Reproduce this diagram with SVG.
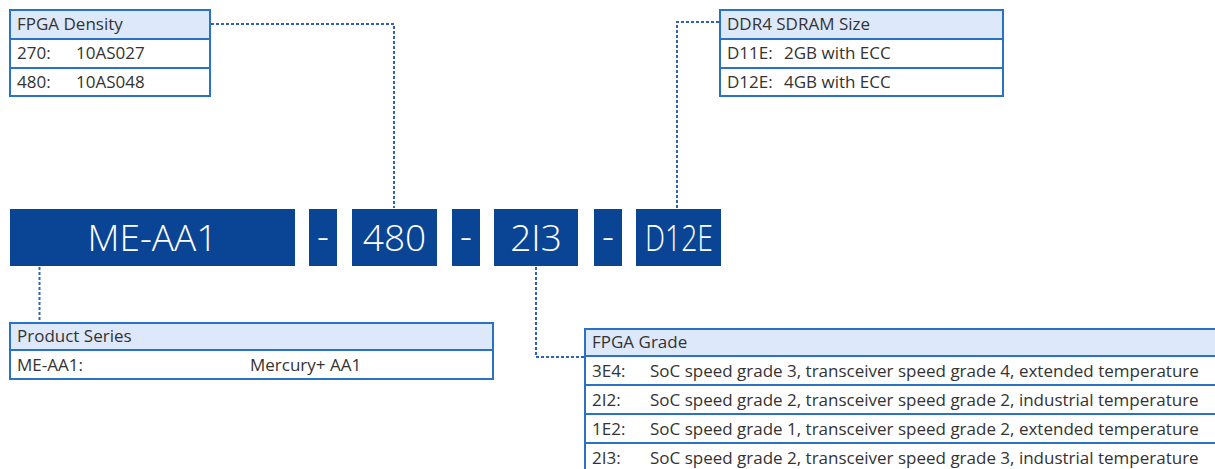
<svg xmlns="http://www.w3.org/2000/svg" width="1215" height="469" viewBox="0 0 1215 469">
<style>
.bk{fill:#0a4595}
.bt{fill:#fff;font-family:"Open Sans","Noto Sans",sans-serif;font-size:37px;font-weight:300;text-anchor:middle}
.hd{fill:#dde8fb;stroke:#2a72c2;stroke-width:2}
.rw{fill:#fff;stroke:#2a72c2;stroke-width:2}
.tx{fill:#333;font-family:"Open Sans","Noto Sans",sans-serif;font-size:17px}
.cn{fill:none;stroke:#2d62b8;stroke-width:2;stroke-dasharray:3 2}
</style>
<rect width="1215" height="469" fill="#fff"/>
<g id="connectors">
<polyline class="cn" points="211,24 394,24 394,208"/>
<polyline class="cn" points="719,22 677,22 677,208"/>
<polyline class="cn" points="39.5,267 39.5,322"/>
<polyline class="cn" points="536,267 536,357 584,357"/>
</g>
<g id="code-me-aa1"><rect class="bk" x="10" y="209" width="285" height="57"/><text class="bt" x="152.5" y="251">ME-AA1</text></g>
<g id="dash1"><rect class="bk" x="309" y="209" width="28" height="57"/><text class="bt" x="323" y="249">-</text></g>
<g id="code-480"><rect class="bk" x="352" y="209" width="85" height="57"/><text class="bt" x="394.5" y="251">480</text></g>
<g id="dash2"><rect class="bk" x="452" y="209" width="28" height="57"/><text class="bt" x="466" y="249">-</text></g>
<g id="code-2i3"><rect class="bk" x="494" y="209" width="84" height="57"/><text class="bt" x="536" y="251">2I3</text></g>
<g id="dash3"><rect class="bk" x="594" y="209" width="28" height="57"/><text class="bt" x="608" y="249">-</text></g>
<g id="code-d12e"><rect class="bk" x="636" y="209" width="85" height="57"/><text class="bt" x="679" y="251" textLength="68" lengthAdjust="spacingAndGlyphs">D12E</text></g>
<g id="fpga-density">
<rect class="hd" x="10" y="10" width="200" height="29"/>
<rect class="rw" x="10" y="39" width="200" height="29"/>
<rect class="rw" x="10" y="68" width="200" height="28"/>
<text class="tx" x="17" y="30">FPGA Density</text>
<text class="tx" x="17" y="59">270:</text><text class="tx" x="76" y="59">10AS027</text>
<text class="tx" x="17" y="88">480:</text><text class="tx" x="76" y="88">10AS048</text>
</g>
<g id="ddr4-size">
<rect class="hd" x="720" y="10" width="283" height="29"/>
<rect class="rw" x="720" y="39" width="283" height="29"/>
<rect class="rw" x="720" y="68" width="283" height="28"/>
<text class="tx" x="727" y="30">DDR4 SDRAM Size</text>
<text class="tx" x="727" y="59">D11E:</text><text class="tx" x="784" y="59">2GB with ECC</text>
<text class="tx" x="727" y="88">D12E:</text><text class="tx" x="784" y="88">4GB with ECC</text>
</g>
<g id="product-series">
<rect class="hd" x="10" y="323" width="483" height="27"/>
<rect class="rw" x="10" y="350" width="483" height="29"/>
<text class="tx" x="17" y="342">Product Series</text>
<text class="tx" x="17" y="371">ME-AA1:</text><text class="tx" x="250" y="371">Mercury+ AA1</text>
</g>
<g id="fpga-grade">
<rect class="hd" x="585" y="329" width="640" height="27"/>
<rect class="rw" x="585" y="356" width="640" height="29"/>
<rect class="rw" x="585" y="385" width="640" height="29"/>
<rect class="rw" x="585" y="414" width="640" height="29"/>
<rect class="rw" x="585" y="443" width="640" height="29"/>
<text class="tx" x="592" y="348">FPGA Grade</text>
<text class="tx" x="592" y="377">3E4:</text><text class="tx" x="650" y="377">SoC speed grade 3, transceiver speed grade 4, extended temperature</text>
<text class="tx" x="592" y="406">2I2:</text><text class="tx" x="650" y="406">SoC speed grade 2, transceiver speed grade 2, industrial temperature</text>
<text class="tx" x="592" y="435">1E2:</text><text class="tx" x="650" y="435">SoC speed grade 1, transceiver speed grade 2, extended temperature</text>
<text class="tx" x="592" y="464">2I3:</text><text class="tx" x="650" y="464">SoC speed grade 2, transceiver speed grade 3, industrial temperature</text>
</g>
</svg>
